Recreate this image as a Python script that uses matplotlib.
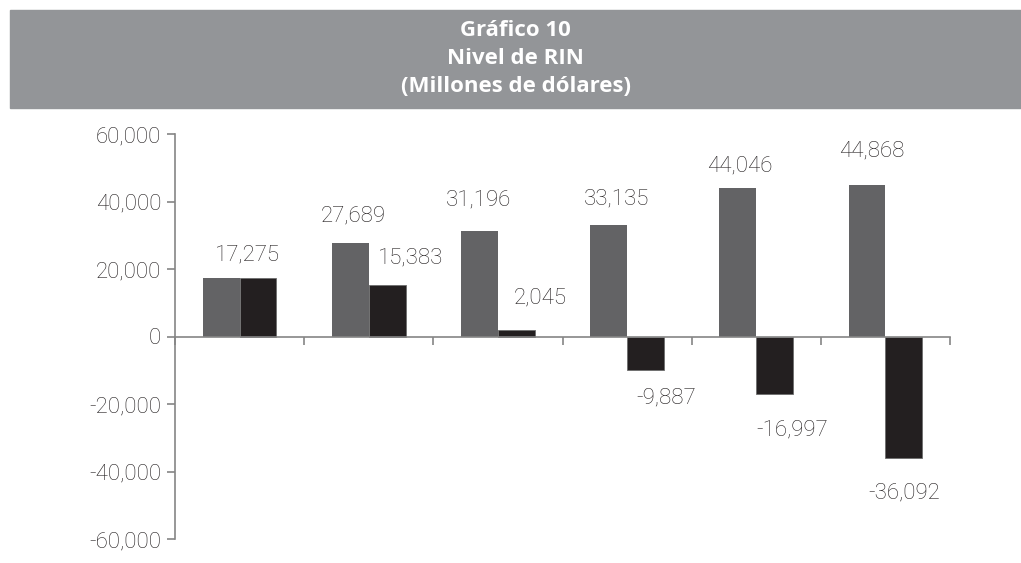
import matplotlib.pyplot as plt
import numpy as np
from matplotlib.patches import Rectangle
from matplotlib.ticker import FuncFormatter

# datos (millones de dolares)
years = ['1', '2', '3', '4', '5', '6']
rin_level = [17275, 27689, 31196, 33135, 44046, 44868]
rin_change = [17275, 15383, 2045, -9887, -16997, -36092]

gray_label_idx = [1, 2, 3, 4, 5]

title_lines = ['Gráfico 10', 'Nivel de RIN', '(Millones de dólares)']

txt_color = '#231f20'
plt.rcParams['font.family'] = ['Roboto', 'Liberation Sans', 'DejaVu Sans']
plt.rcParams['font.weight'] = 'light'

fig = plt.figure(figsize=(10.21, 5.63), dpi=100)

# title banner
fig.patches.append(Rectangle((10 / 1021, 1 - 108 / 563), 1 - 10 / 1021, 98 / 563,
                             transform=fig.transFigure, color='#939598', zorder=0))
for i, line in enumerate(title_lines):
    fig.text(0.5 + 5 / 1021, 1 - (30 + 28.5 * i) / 563, line, ha='center', va='center',
             color='white', fontsize=16, fontweight='bold', family='Open Sans')

ax = fig.add_axes([175 / 1021, 1 - 539 / 563, (950 - 175) / 1021, (539 - 134) / 563])

x = np.arange(len(years)) + 0.5
w = 0.285
ax.bar(x - w / 2, rin_level, w, color='#636365', zorder=2)
ax.bar(x + w / 2, rin_change, w, color='#231f20', edgecolor='#6d6d6d', linewidth=0.6, zorder=2)

# labels (offsets in pixels)
gray_off = [(3, 27), (-1, 31), (8, 26), (2, 22), (5, 34)]
for k, i in enumerate(gray_label_idx):
    ax.annotate(f'{rin_level[i]:,}', (x[i] - w / 2, rin_level[i]), xytext=gray_off[k],
                textcoords='offset pixels', ha='center', va='center', fontsize=16, color=txt_color)

black_off = [(-11, 23), (23, 27), (24, 32), (21, -28), (17, -36), (0, -35)]
for i, v in enumerate(rin_change):
    ax.annotate(f'{v:,}', (x[i] + w / 2, v), xytext=black_off[i],
                textcoords='offset pixels', ha='center', va='center', fontsize=16, color=txt_color)

ax.set_xlim(0, len(years))
ax.set_ylim(-60000, 60000)
ax.set_yticks(np.arange(-60000, 60001, 20000))
ax.yaxis.set_major_formatter(FuncFormatter(lambda v, p: f'{int(v):,}'))
ax.set_xticks(np.arange(0, len(years) + 1))
ax.set_xticklabels([])

for s in ['top', 'right']:
    ax.spines[s].set_visible(False)
ax.spines['bottom'].set_position(('data', 0))
for s in ['left', 'bottom']:
    ax.spines[s].set_color('#858585')
    ax.spines[s].set_linewidth(1.2)
    ax.spines[s].set_zorder(3)
ax.tick_params(axis='y', length=6, width=1.2, color='#858585', labelsize=16,
               labelcolor=txt_color, pad=4)
ax.tick_params(axis='x', length=6, width=1.2, color='#858585', direction='out')
ax.patch.set_visible(False)

plt.savefig('out.png', dpi=100)
